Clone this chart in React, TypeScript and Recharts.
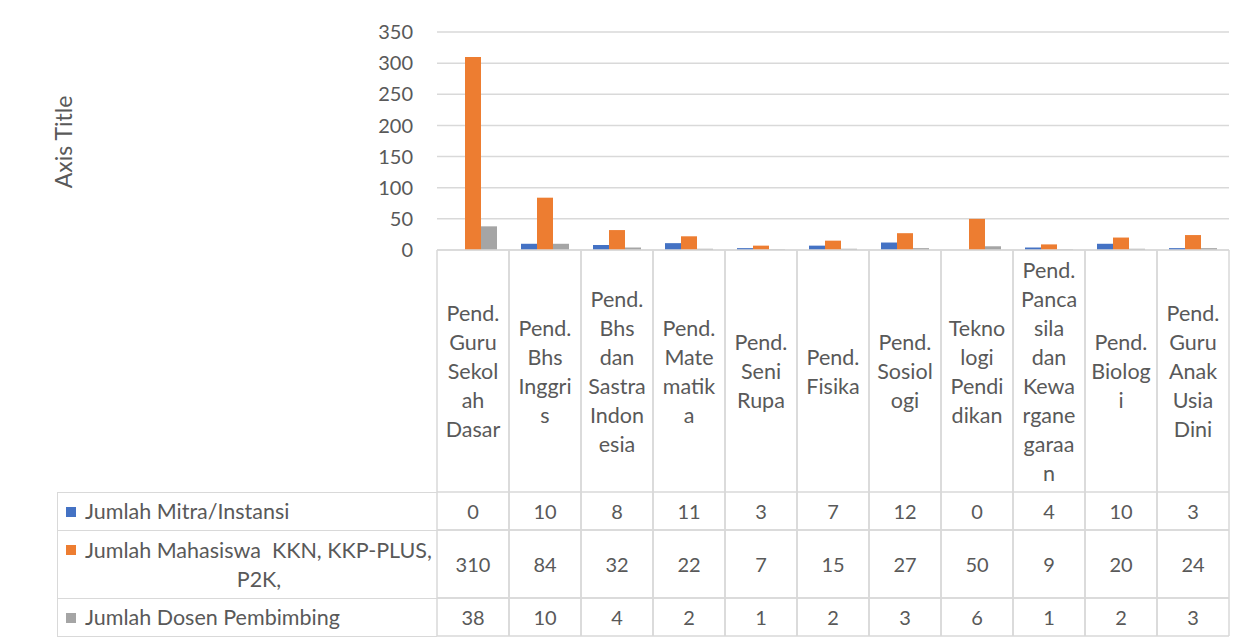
import React from 'react';
import { BarChart, Bar, XAxis, YAxis, CartesianGrid } from 'recharts';

const categoryLines: string[][] = [
    ['Pend.', 'Guru', 'Sekol', 'ah', 'Dasar'],
    ['Pend.', 'Bhs', 'Inggri', 's'],
    ['Pend.', 'Bhs', 'dan', 'Sastra', 'Indon', 'esia'],
    ['Pend.', 'Mate', 'matik', 'a'],
    ['Pend.', 'Seni', 'Rupa'],
    ['Pend.', 'Fisika'],
    ['Pend.', 'Sosiol', 'ogi'],
    ['Tekno', 'logi', 'Pendi', 'dikan'],
    ['Pend.', 'Panca', 'sila', 'dan', 'Kewa', 'rgane', 'garaa', 'n'],
    ['Pend.', 'Biolog', 'i'],
    ['Pend.', 'Guru', 'Anak', 'Usia', 'Dini'],
];

const mitra = [0, 10, 8, 11, 3, 7, 12, 0, 4, 10, 3];
const mahasiswa = [310, 84, 32, 22, 7, 15, 27, 50, 9, 20, 24];
const dosen = [38, 10, 4, 2, 1, 2, 3, 6, 1, 2, 3];

const yTicks = [0, 50, 100, 150, 200, 250, 300, 350];

const seriesNames: string[][] = [
    ['Jumlah Mitra/Instansi'],
    ['Jumlah Mahasiswa  KKN, KKP-PLUS,', 'P2K,'],
    ['Jumlah Dosen Pembimbing'],
];
const seriesColors = ['#4472C4', '#ED7D31', '#A5A5A5'];
const seriesValues = [mitra, mahasiswa, dosen];

const data = categoryLines.map((lines, i) => ({
    name: lines.join(''),
    mitra: mitra[i],
    mahasiswa: mahasiswa[i],
    dosen: dosen[i],
}));

const FONT = 'Lato, "Open Sans", sans-serif';
const FS = 21.5;
const NUM_FS = 20;
const GRID = '#D9D9D9';
const TEXT = '#595959';

// table rows below the category labels (offsets from the axis line)
const labelH = 242;
const rowH = [38, 68, 38];

const TableTick = (props: any) => {
    const { x, y, payload, width, visibleTicksCount } = props;
    const idx = payload.index;
    const half = width / visibleTicksCount / 2;
    const lines = categoryLines[idx];
    const lh = 29;
    const startY = y + labelH / 2 - ((lines.length - 1) * lh) / 2;
    const total = labelH + rowH.reduce((a, b) => a + b, 0);
    let rowTop = y + labelH;
    const rows = rowH.map((h, r) => {
        const top = rowTop;
        rowTop += h;
        return { top, h, r };
    });
    return (
        <g>
            <line x1={x - half} x2={x - half} y1={y} y2={y + total} stroke={GRID} strokeWidth={1.5} />
            <line x1={x + half} x2={x + half} y1={y} y2={y + total} stroke={GRID} strokeWidth={1.5} />
            {lines.map((t, i) => (
                <text key={i} x={x} y={startY + i * lh} textAnchor="middle" dominantBaseline="central"
                    fontFamily={FONT} fontSize={FS} fill={TEXT}>{t}</text>
            ))}
            {rows.map(({ top, h, r }) => (
                <g key={r}>
                    <line x1={x - half} x2={x + half} y1={top} y2={top} stroke={GRID} strokeWidth={1.5} />
                    <line x1={x - half} x2={x + half} y1={top + h} y2={top + h} stroke={GRID} strokeWidth={1.5} />
                    <text x={x} y={top + h / 2} textAnchor="middle" dominantBaseline="central"
                        fontFamily={FONT} fontSize={NUM_FS} fill={TEXT}>{seriesValues[r][idx]}</text>
                </g>
            ))}
        </g>
    );
};

export default function App() {
    return (
        <div style={{ position: 'relative', width: 1238, height: 636 }}>
            <BarChart width={1238} height={636} data={data}
                margin={{ top: 24, right: 17, left: 369, bottom: 8 }}
                barCategoryGap={12} barGap={0}>
                <CartesianGrid vertical={false} stroke={GRID} strokeWidth={1.5} />
                <XAxis dataKey="name" height={386} interval={0} axisLine={{ stroke: GRID, strokeWidth: 1.5 }}
                    tickLine={false} tickSize={0} tickMargin={0} tick={<TableTick />} />
                <YAxis domain={[0, 350]} ticks={yTicks} width={60} axisLine={false} tickLine={false}
                    tickSize={0} tickMargin={24} interval={0}
                    tick={{ fill: TEXT, fontSize: NUM_FS, fontFamily: FONT }} />
                <Bar dataKey="mitra" fill={seriesColors[0]} isAnimationActive={false} />
                <Bar dataKey="mahasiswa" fill={seriesColors[1]} isAnimationActive={false} />
                <Bar dataKey="dosen" fill={seriesColors[2]} isAnimationActive={false} />
            </BarChart>
            <div style={{
                position: 'absolute', left: 55, top: 134, transform: 'translate(-50%, -50%) rotate(-90deg)',
                fontFamily: FONT, fontSize: 23, color: TEXT, whiteSpace: 'nowrap',
            }}>Axis Title</div>
            <div style={{
                position: 'absolute', left: 49, top: 484, width: 380,
                borderTop: `1.5px solid ${GRID}`, borderLeft: `1.5px solid ${GRID}`, boxSizing: 'border-box',
            }}>
                {seriesNames.map((lines, i) => (
                    <div key={i} style={{
                        height: rowH[i], boxSizing: 'border-box', borderBottom: `1.5px solid ${GRID}`,
                        display: 'flex', alignItems: 'center', paddingLeft: 8, paddingRight: 4,
                        fontFamily: FONT, fontSize: FS, color: TEXT, lineHeight: '29px', whiteSpace: 'pre',
                    }}>
                        <div style={{ flex: 1 }}>
                            {lines.map((l, j) => (
                                <div key={j} style={{ display: 'flex', alignItems: 'center', paddingLeft: j === 0 ? 0 : 19 }}>
                                    {j === 0 && (
                                        <span style={{ display: 'inline-block', width: 10, height: 10, background: seriesColors[i], marginRight: 9 }} />
                                    )}
                                    <span style={{ flex: 1, textAlign: j === 0 ? 'left' : 'center' }}>{l}</span>
                                </div>
                            ))}
                        </div>
                    </div>
                ))}
            </div>
        </div>
    );
}
